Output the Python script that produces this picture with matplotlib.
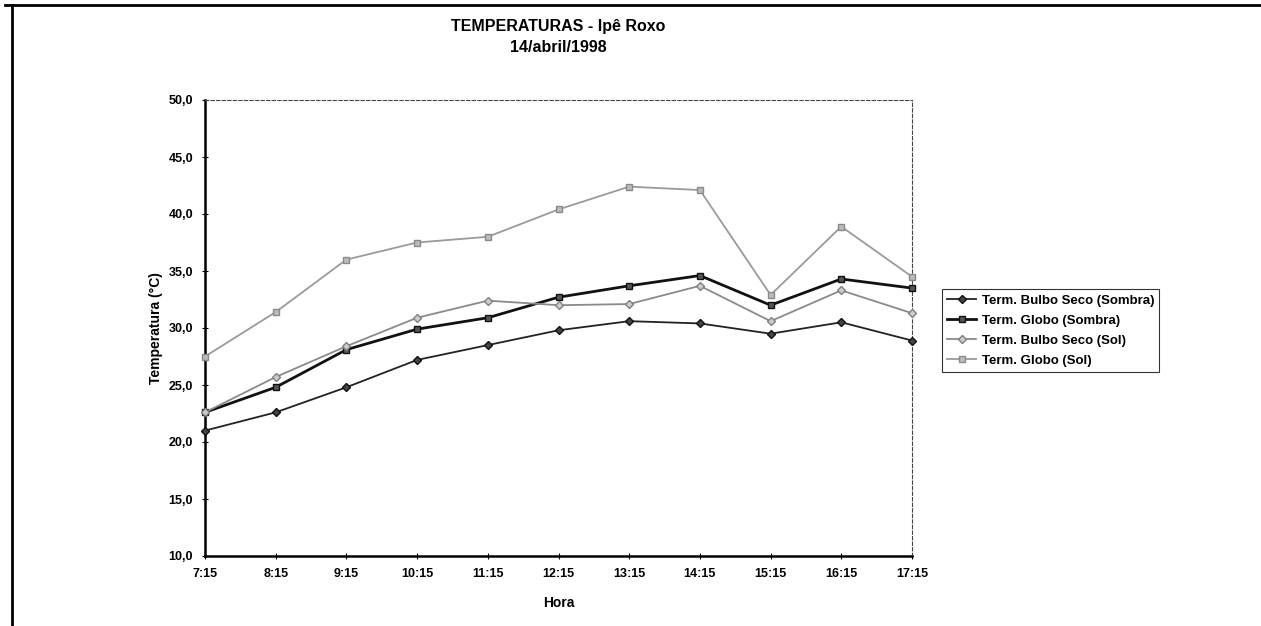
import matplotlib
matplotlib.use("Agg")
import matplotlib.pyplot as plt
from matplotlib.lines import Line2D
from matplotlib.ticker import FuncFormatter

horas = ["7:15", "8:15", "9:15", "10:15", "11:15", "12:15", "13:15", "14:15", "15:15", "16:15", "17:15"]
bulbo_sombra = [21.0, 22.6, 24.8, 27.2, 28.5, 29.8, 30.6, 30.4, 29.5, 30.5, 28.9]
globo_sombra = [22.6, 24.8, 28.1, 29.9, 30.9, 32.7, 33.7, 34.6, 32.0, 34.3, 33.5]
bulbo_sol = [22.6, 25.7, 28.4, 30.9, 32.4, 32.0, 32.1, 33.7, 30.6, 33.3, 31.3]
globo_sol = [27.5, 31.4, 36.0, 37.5, 38.0, 40.4, 42.4, 42.1, 32.9, 38.9, 34.5]

nomes = [
    "Term. Bulbo Seco (Sombra)",
    "Term. Globo (Sombra)",
    "Term. Bulbo Seco (Sol)",
    "Term. Globo (Sol)",
]

plt.rcParams["font.family"] = ["Liberation Sans", "DejaVu Sans"]
plt.rcParams["font.weight"] = "bold"

W, H = 1261, 626
left, right, top, bottom = 205, 912, 100, 556

fig = plt.figure(figsize=(W / 100, H / 100), dpi=100)
ax = fig.add_axes([left / W, 1 - bottom / H, (right - left) / W, (bottom - top) / H])

x = list(range(len(horas)))
estilos = [
    (bulbo_sombra, dict(color="#222222", lw=1.3, marker="D", ms=4.5, mfc="#444444", mec="#111111")),
    (globo_sombra, dict(color="#111111", lw=2.0, marker="s", ms=5, mfc="#555555", mec="#111111")),
    (bulbo_sol, dict(color="#8a8a8a", lw=1.3, marker="D", ms=4.5, mfc="#cccccc", mec="#808080")),
    (globo_sol, dict(color="#9a9a9a", lw=1.3, marker="s", ms=5, mfc="#bbbbbb", mec="#8a8a8a")),
]
for (serie, kw), nome in zip(estilos, nomes):
    ax.plot(x, serie, label=nome, zorder=3, clip_on=False, **kw)

ax.set_xlim(0, len(horas) - 1)
ax.set_ylim(10, 50)
ax.set_yticks(range(10, 51, 5))
ax.yaxis.set_major_formatter(FuncFormatter(lambda v, _: f"{v:.1f}".replace(".", ",")))
ax.set_xticks(x)
ax.set_xticklabels(horas)
ax.tick_params(direction="inout", length=5, width=0.8, labelsize=9, pad=6)
for lab in ax.get_xticklabels() + ax.get_yticklabels():
    lab.set_fontweight("bold")

ax.spines["left"].set_linewidth(1.8)
ax.spines["bottom"].set_linewidth(1.8)
for s in ("top", "right"):
    ax.spines[s].set_linestyle((0, (3, 2)))
    ax.spines[s].set_linewidth(0.8)
    ax.spines[s].set_color("#444444")

ax.set_ylabel("Temperatura (°C)", fontsize=10, fontweight="bold", labelpad=4)
ax.set_xlabel("Hora", fontsize=10, fontweight="bold", labelpad=12)

cx = (left + right) / 2 / W
fig.text(cx, 1 - 27 / H, "TEMPERATURAS - Ipê Roxo", ha="center", va="center",
         fontsize=11.5, fontweight="bold")
fig.text(cx, 1 - 48 / H, "14/abril/1998", ha="center", va="center",
         fontsize=11.5, fontweight="bold")

leg = ax.legend(loc="upper left", bbox_to_anchor=(942 / W, 1 - 289 / H),
                bbox_transform=fig.transFigure, fontsize=9.5, frameon=True, fancybox=False,
                handlelength=2.2, handletextpad=0.4, borderpad=0.4, labelspacing=0.6,
                borderaxespad=0)
leg.get_frame().set_edgecolor("black")
leg.get_frame().set_linewidth(0.8)
for t in leg.get_texts():
    t.set_fontweight("bold")

# moldura externa
fig.add_artist(Line2D([5 / W, 1.0], [1 - 5 / H, 1 - 5 / H], transform=fig.transFigure,
                      color="black", lw=2))
fig.add_artist(Line2D([12 / W, 12 / W], [1 - 5 / H, 0.0], transform=fig.transFigure,
                      color="black", lw=2))

fig.savefig("out.png", dpi=100)
